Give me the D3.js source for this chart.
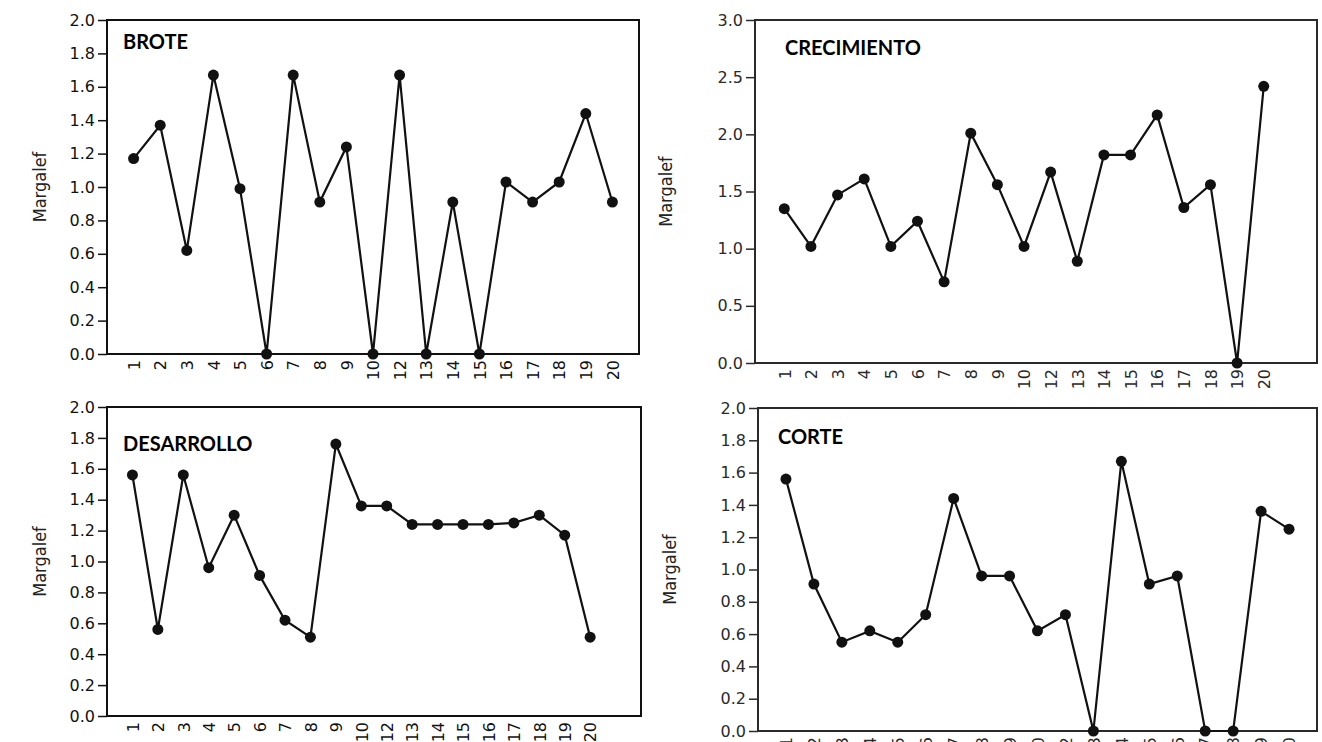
<!DOCTYPE html>
<html>
<head>
<meta charset="utf-8">
<script src="https://cdn.jsdelivr.net/npm/d3@7"></script>
<style>
  body { margin: 0; background: #fff; }
</style>
</head>
<body>
<div id="chart"></div>
<script>
// sampling sites on the x axis (there is no site 11)
var sites = ["1", "2", "3", "4", "5", "6", "7", "8", "9", "10",
             "12", "13", "14", "15", "16", "17", "18", "19", "20"];

// Margalef index per site, one array per phase
var brote       = [1.17, 1.37, 0.62, 1.67, 0.99, 0.00, 1.67, 0.91, 1.24, 0.00,
                   1.67, 0.00, 0.91, 0.00, 1.03, 0.91, 1.03, 1.44, 0.91];
var crecimiento = [1.35, 1.02, 1.47, 1.61, 1.02, 1.24, 0.71, 2.01, 1.56, 1.02,
                   1.67, 0.89, 1.82, 1.82, 2.17, 1.36, 1.56, 0.00, 2.42];
var desarrollo  = [1.56, 0.56, 1.56, 0.96, 1.30, 0.91, 0.62, 0.51, 1.76, 1.36,
                   1.36, 1.24, 1.24, 1.24, 1.24, 1.25, 1.30, 1.17, 0.51];
var corte       = [1.56, 0.91, 0.55, 0.62, 0.55, 0.72, 1.44, 0.96, 0.96, 0.62,
                   0.72, 0.00, 1.67, 0.91, 0.96, 0.00, 0.00, 1.36, 1.25];

// y tick values
var ticksTwo   = [0, 0.2, 0.4, 0.6, 0.8, 1.0, 1.2, 1.4, 1.6, 1.8, 2.0];
var ticksThree = [0, 0.5, 1.0, 1.5, 2.0, 2.5, 3.0];

var svg = d3.select("#chart")
  .append("svg")
    .attr("width", 1322)
    .attr("height", 742);

// panel layout (box edges in page pixels, padding in steps)
var panels = [
  {title: "BROTE", values: brote, yMax: 2, ticks: ticksTwo,
   left: 107, right: 639, top: 20, bottom: 354, padL: 1, padR: 1,
   titleX: 123, titleY: 49, labelX: 40, ink: "#111"},
  {title: "CRECIMIENTO", values: crecimiento, yMax: 3, ticks: ticksThree,
   left: 755, right: 1317, top: 20, bottom: 363, padL: 1.1, padR: 2,
   titleX: 785, titleY: 55, labelX: 666, ink: "#2a2a2a"},
  {title: "DESARROLLO", values: desarrollo, yMax: 2, ticks: ticksTwo,
   left: 107, right: 641, top: 407, bottom: 716, padL: 1, padR: 2,
   titleX: 123, titleY: 451, labelX: 40, ink: "#111"},
  {title: "CORTE", values: corte, yMax: 2, ticks: ticksTwo,
   left: 758, right: 1317, top: 408, bottom: 731, padL: 1, padR: 1,
   titleX: 778, titleY: 444, labelX: 670, ink: "#2a2a2a"}
];

const drawPanel = (p) => {
  var width = p.right - p.left,
      height = p.bottom - p.top;

  var g = svg.append("g")
    .attr("transform", "translate(" + p.left + "," + p.top + ")");

  var step = width / (sites.length - 1 + p.padL + p.padR);
  var x = d3.scalePoint()
    .domain(sites)
    .range([p.padL * step, width - p.padR * step]);

  var y = d3.scaleLinear()
    .domain([0, p.yMax])
    .range([height, 0]);

  // y axis
  var yAxis = g.append("g")
    .call(d3.axisLeft(y).tickValues(p.ticks).tickSize(9).tickPadding(3)
      .tickFormat(d3.format(".1f")));
  yAxis.select(".domain").remove();
  yAxis.selectAll("line").attr("stroke", p.ink).attr("stroke-width", 1.5);
  yAxis.selectAll("text")
    .style("font-family", "'DejaVu Sans', sans-serif")
    .style("font-size", "16px")
    .attr("fill", p.ink);

  // x axis, labels turned on their side
  var xAxis = g.append("g")
    .attr("transform", "translate(0," + height + ")")
    .call(d3.axisBottom(x).tickSize(0));
  xAxis.select(".domain").remove();
  xAxis.selectAll("text")
    .attr("transform", "rotate(-90)")
    .attr("x", -6)
    .attr("y", 0)
    .attr("dy", "0.36em")
    .style("text-anchor", "end")
    .style("font-family", "'DejaVu Sans', sans-serif")
    .style("font-size", "16px")
    .attr("fill", p.ink);

  // frame
  g.append("rect")
    .attr("width", width)
    .attr("height", height)
    .attr("fill", "none")
    .attr("stroke", p.ink)
    .attr("stroke-width", 2);

  var pts = sites.map((s, i) => ({site: s, v: p.values[i]}));

  g.append("path")
    .datum(pts)
    .attr("fill", "none")
    .attr("stroke", "#111")
    .attr("stroke-width", 2.2)
    .attr("d", d3.line().x(d => x(d.site)).y(d => y(d.v)));

  g.selectAll("circle")
    .data(pts)
    .enter()
    .append("circle")
    .attr("cx", d => x(d.site))
    .attr("cy", d => y(d.v))
    .attr("r", 5.5)
    .attr("fill", "#111");

  // panel name
  svg.append("text")
    .attr("x", p.titleX)
    .attr("y", p.titleY)
    .style("font-family", "Lato, 'Open Sans', sans-serif")
    .style("font-weight", "bold")
    .style("font-size", "20px")
    .attr("fill", "#000")
    .text(p.title);

  // y axis title
  svg.append("text")
    .attr("transform", "translate(" + p.labelX + "," + (p.top + height / 2) + ") rotate(-90)")
    .attr("text-anchor", "middle")
    .attr("dy", "0.35em")
    .style("font-family", "'Liberation Sans Narrow', 'DejaVu Sans Condensed', sans-serif")
    .style("font-size", "18px")
    .attr("fill", "#222")
    .text("Margalef");
};

panels.forEach(drawPanel);
</script>
</body>
</html>
